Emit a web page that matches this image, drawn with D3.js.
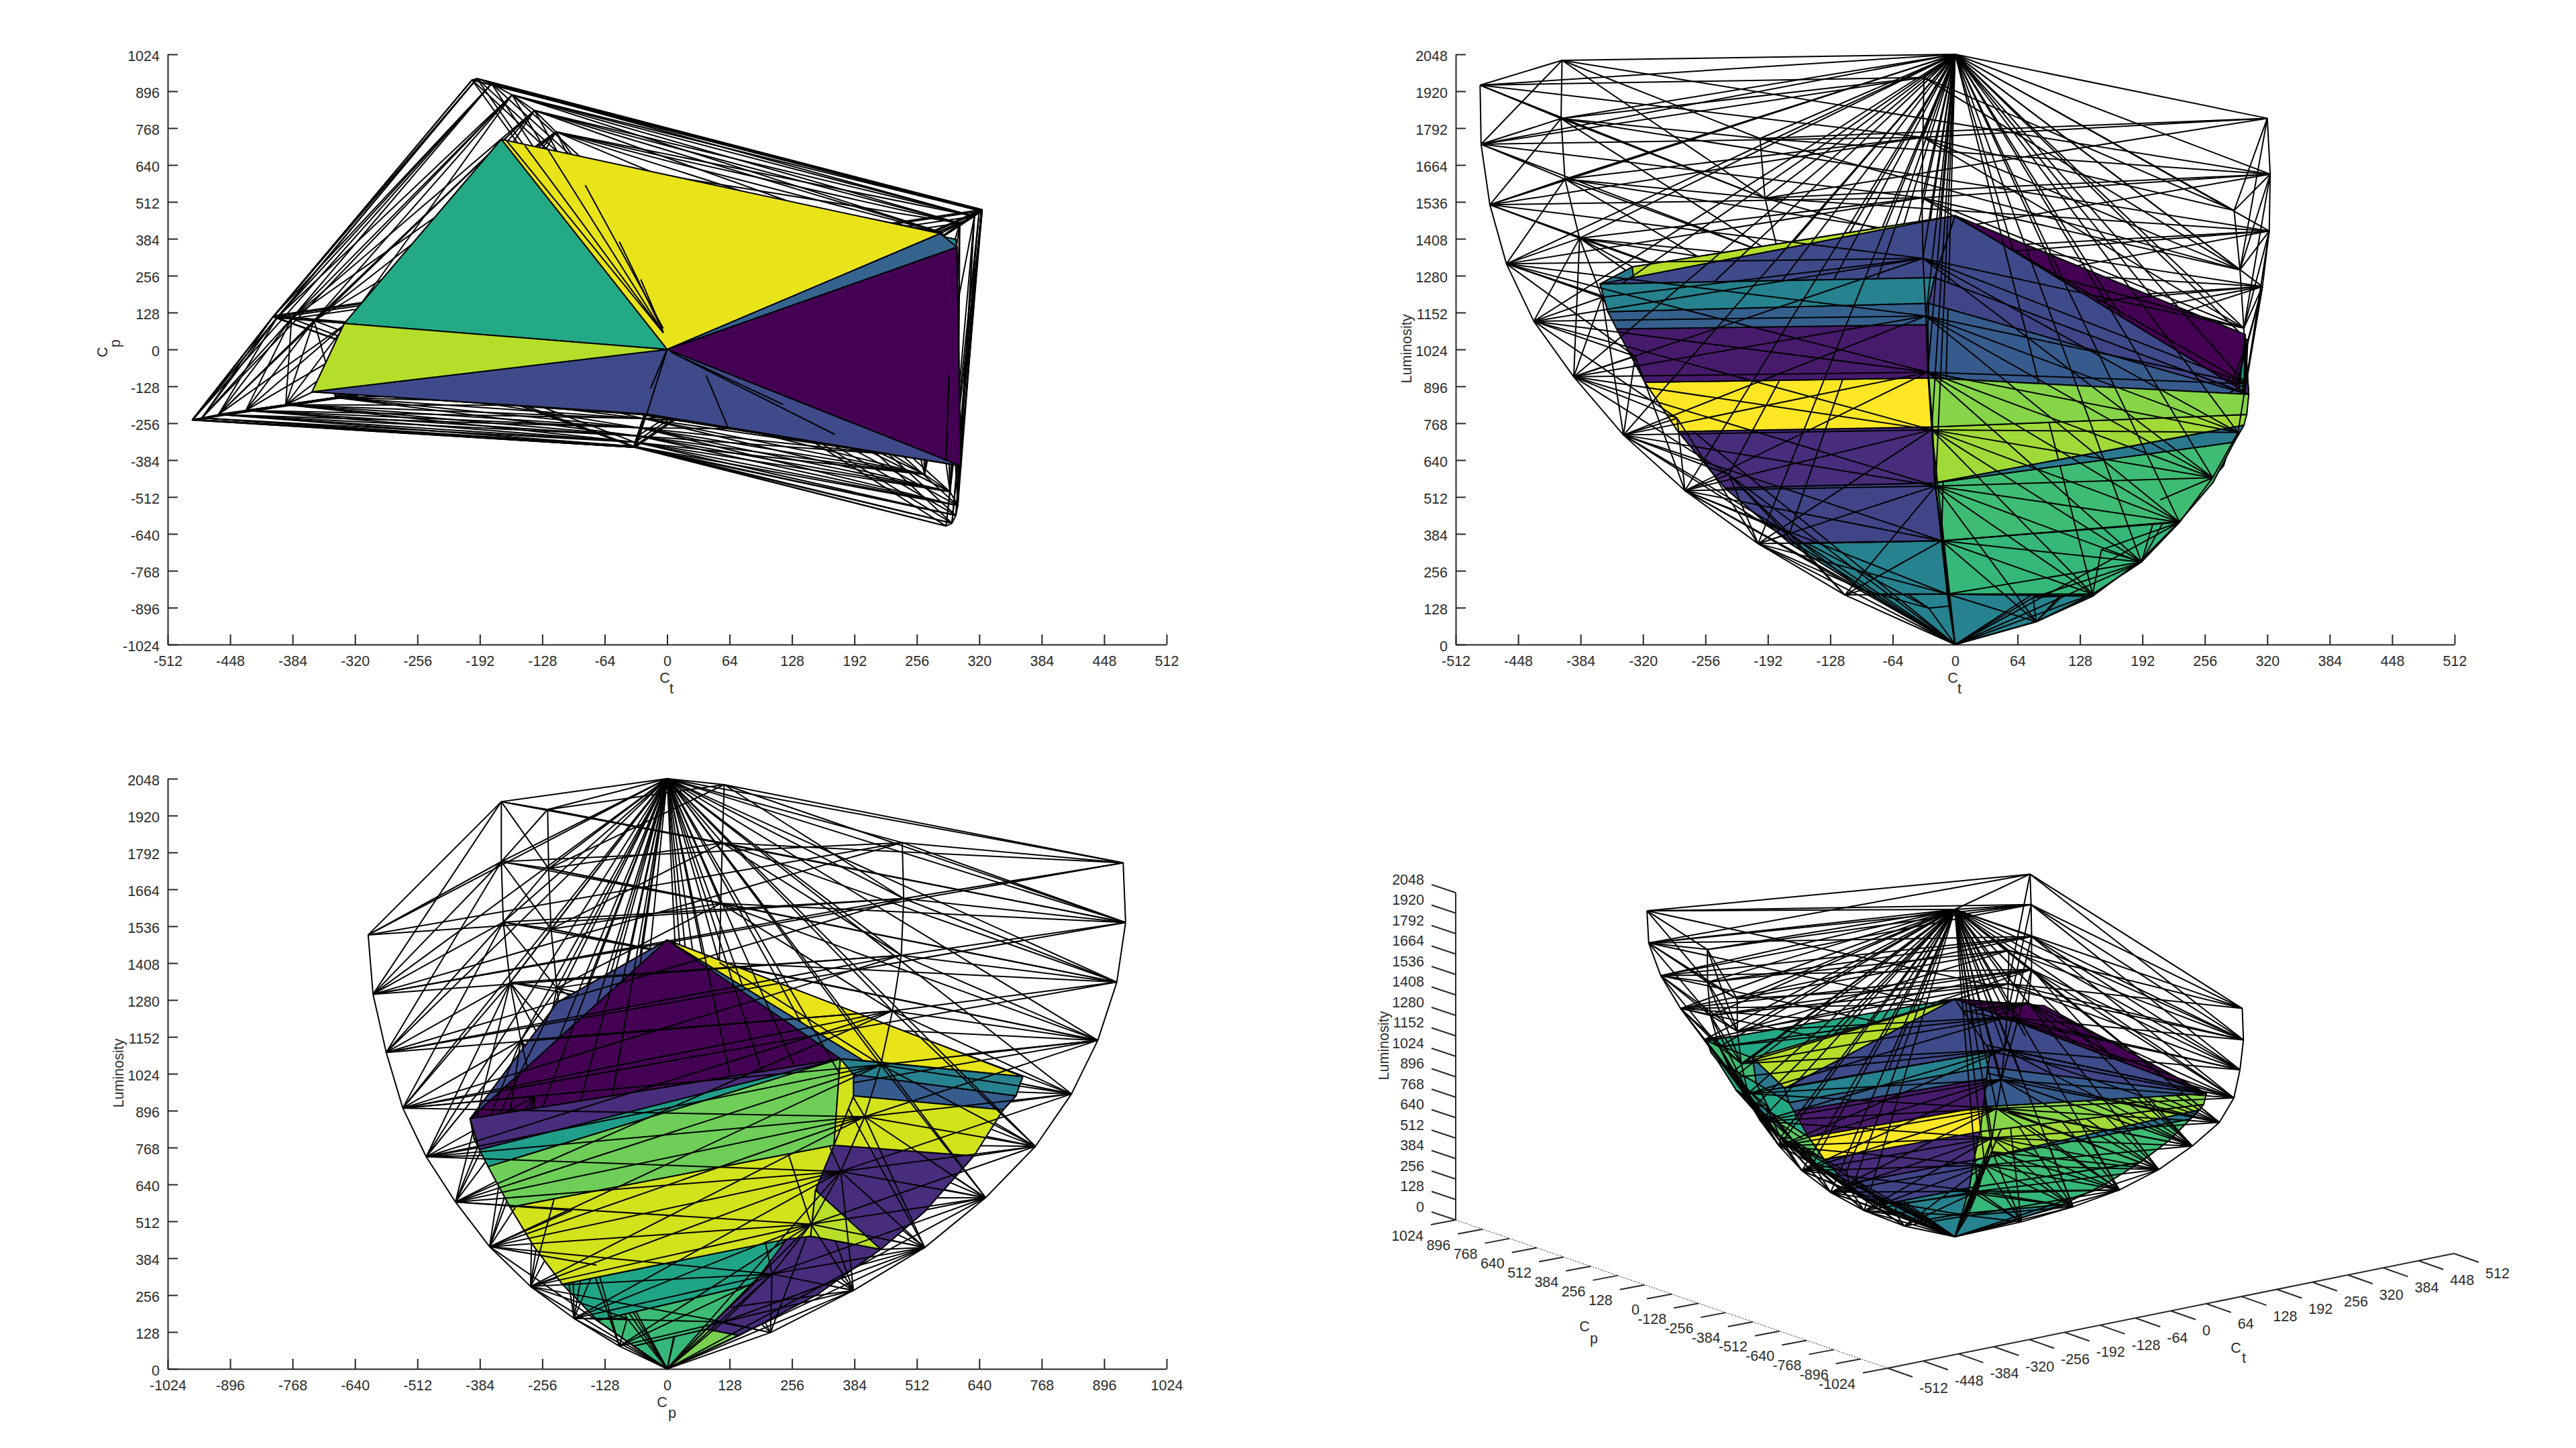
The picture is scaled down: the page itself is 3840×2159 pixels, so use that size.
<!DOCTYPE html>
<html><head><meta charset="utf-8">
<script src="https://cdn.jsdelivr.net/npm/d3@7"></script>
<style>html,body{margin:0;background:#fff}svg{display:block}text{font-family:"Liberation Sans",Arial,sans-serif;font-size:21.5px;fill:#2b2b2b}</style>
</head><body><svg id="c" width="3840" height="2159"></svg>
<script>
// ---- tick labels
const ctTicks=d3.range(-512,513,64), cpTicks=d3.range(-1024,1025,128), lTicks=d3.range(0,2049,128);
// ---- outer gamut shell: six chains, corner (top) to near black. Order A F B C E D
const outerCt=[
[-487,-486,-477,-460,-432,-391,-340,-277,-202,-113],
[-403,-404,-400,-385,-362,-328,-285,-232,-170,-95],
[-200,-195,-180,-159,-136,-114,-93,-72,-50,-27],
[320,323,322,315,300,282,255,210,150,80],
[286,292,296,298,290,264,230,191,141,83],
[-32,-33,-34,-33,-30,-28,-24,-20,-14,-8]];
const outerCp=[
[-245,-243,-238,-226,-212,-192,-167,-137,-100,-56],
[117,113,110,107,100,92,80,65,47,26],
[935,940,922,883,829,755,653,528,382,212],
[482,485,480,462,438,405,356,295,215,115],
[-613,-603,-576,-542,-494,-434,-364,-280,-191,-98],
[-340,-340,-336,-322,-300,-272,-240,-195,-145,-82]];
const outerL=[
[1941,1736,1526,1321,1122,929,727,534,350,172],
[2027,1825,1615,1410,1205,1000,785,590,385,190],
[1756,1549,1342,1140,954,772,594,421,272,126],
[1826,1632,1435,1242,1055,875,685,502,329,163],
[1506,1300,1098,905,736,579,424,286,175,79],
[1968,1760,1550,1340,1140,945,745,550,360,175]];
const whitePoint=[0,0,2048], blackPoint=[0,0,0], innerApex=[0,0,1488];
// ---- inner solid: chains [Ct, Cp, L]
const chainA=[[-364,-147,1251],[-356,-147,1155],[-347,-146,1095],[-318,-140,910],[-284,-125,739],[-236,-105,543],[-169,-78,350],[-86,-42,175]];
const chainB=[[-331,90,1310],[-325,90,1150],[-300,85,950],[-265,75,760],[-220,62,560],[-158,45,360],[-82,24,180]];
const chainC=[[-170,729,1014],[-168,715,947],[-165,689,899],[-155,629,739],[-135,528,546],[-115,438,415],[-82,307,257],[-42,148,116]];
const chainD=[[297,355,1076],[296,382,1021],[296,382,947],[290,342,776],[275,304,620],[235,294,460],[225,245,450],[165,177,294],[85,80,138]];
const chainE=[[301,-404,868],[299,-396,798],[296,-385,761],[286,-367,702],[264,-322,561],[230,-274,427],[191,-215,294],[141,-143,168],[83,-69,79]];
const chainF=[[-21,-224,1273],[-27,-226,1184],[-28,-224,1110],[-27,-205,925],[-23,-180,755],[-21,-145,561],[-12,-100,360],[-8,-55,175]];
const chainQ=[[280,402,1070]];
// ---- faces of the inner solid and their colours
const faceList=[
"T a0 b0","T b0 c0","T c0 q0","T q0 d0","T d0 e0","T e0 f0","T f0 a0",
"f0 f1 a1 a0","f1 f2 a2 a1","f2 f3 a3 a2","f3 f4 a4 a3","f4 f5 a5 a4","f5 f6 a6 a5","f6 f7 a7 a6","f7 O a7",
"f0 f1 e0","f1 f2 f3 e0","f3 f4 e1 e0","f4 f5 e2 e1","f5 e3 e2","f5 f6 e5 e4 e3","f6 f7 e7 e6 e5","f7 O e8 e7",
"d0 e0 e2","d0 e2 e3","d0 e3 e4 d3","e4 d3 d4 d5 d6 e6 e5","e6 d6 d7 e7","e7 d7 d8 e8","e8 d8 O",
"d0 c0 c1 d1","d1 c1 c2 d2","d0 d1 d2 d3","d2 c2 c3 d3","d3 c3 c4 c5 d4","d4 c5 d5","d5 c5 c6 c7 d8 d7 d6","d8 c7 O",
"a0 b0 b1 a1","a1 b1 b2 a3","a3 b2 b3 a4","a4 b3 b4 a5","a5 b4 b5 a6","a6 b5 b6 a7","a7 b6 O",
"b0 c0 c1 c2 b1","b1 c2 c3 b2","b2 c3 b3","b3 c3 c4 b4","b4 c4 c5 b5","b5 c5 c6 b6","b6 c6 c7 O"];
const faceColors=[
"#b5de2b","#24a986","#e8e419","#35648f","#440154","#3f4a8a","#3f4a8a",
"#26828e","#35608d","#481a6c","#fde725","#472d7b","#414487","#26828e","#26828e",
"#404588","#375b8d","#86d549","#a0da39","#2a788e","#3fbc73","#35b779","#26828e",
"#472d7b","#1f9e89","#6ece58","#d2e21b","#20a486","#3cbb75","#35b779",
"#26828e","#365c8d","#d2e21b","#d2e21b","#472d7b","#b8de29","#472d7b","#7ad151",
"#2a788e","#22a884","#5ec962","#22a884","#2a788e","#3fbc73","#22a884",
"#3fbc73","#22a884","#2a788e","#5ec962","#3fbc73","#22a884","#2a788e"];
// short leftover segments seen on top of the first panel [Ct1,Cp1,Ct2,Cp2]
const topViewStubs=[
[-165,726,-4,58],[-146,708,-4,58],[-124,703,-4,58],[-84,570,-4,73],[-49,374,-8,88],[-27,243,-4,60],
[289,-90,286,-387],[-17,-135,0,0],[4,-9,172,-295],[18,-31,119,-191],[40,-90,63,-276]];

// ---- vertex lookup
const V={T:innerApex,O:blackPoint,W:whitePoint};
[["a",chainA],["b",chainB],["c",chainC],["d",chainD],["e",chainE],["f",chainF],["q",chainQ]].forEach(([k,ch])=>ch.forEach((p,i)=>V[k+i]=p));
const faces=faceList.map((s,i)=>({pts:s.split(" ").map(n=>V[n]),color:faceColors[i]}));

// ---- outer wire edges
const op=(c,k)=>[outerCt[c][k],outerCp[c][k],outerL[c][k]];
const wires=[];
for(let c=0;c<6;c++){const n=(c+1)%6, m=(c+2)%6;
  for(let k=0;k<10;k++){
    wires.push([op(c,k),op(n,k)]);
    if(k<9){
      wires.push([op(c,k),op(c,k+1)]);
      wires.push([op(c,k),op(n,k+1)]);
      wires.push([op(c,k+1),op(n,k)]);
      wires.push([op(c,k),whitePoint]);
    }
    if(k<4 && c!==4) wires.push([op(c,k),op(m,k+1)]);
    if(k>=3 && k<8){
      wires.push([op(c,k),op(n,k+2)]);
      wires.push([op(c,k+2),op(n,k)]);
    }
    if(k>=6) wires.push([op(c,k),blackPoint]);
  }
}

// ---- panels
const svg=d3.select("#c");
const frames=[
 {x0:250,x1:1739,y0:961,y1:81},
 {x0:2170,x1:3659,y0:961,y1:81},
 {x0:250,x1:1739,y0:2041,y1:1161}];
function axes2D(f,xDom,xVals,yDom,yVals){
  const sx=d3.scaleLinear().domain(xDom).range([f.x0,f.x1]);
  const sy=d3.scaleLinear().domain(yDom).range([f.y0,f.y1]);
  const g=svg.append("g");
  const ax=g.append("g").attr("transform",`translate(0,${f.y0})`)
    .call(d3.axisBottom(sx).tickValues(xVals).tickFormat(String).tickSizeInner(-15).tickSizeOuter(0).tickPadding(17));
  const ay=g.append("g").attr("transform",`translate(${f.x0},0)`)
    .call(d3.axisLeft(sy).tickValues(yVals).tickFormat(String).tickSizeInner(-15).tickSizeOuter(0).tickPadding(12));
  ay.selectAll("text").attr("y",3);
  [ax,ay].forEach(a=>{a.attr("font-family",null).attr("font-size",null);
    a.selectAll("path,line").attr("stroke","#262626").attr("stroke-width",2);});
  return {sx,sy};
}
// wireBias pushes wires toward the viewer relative to the faces
function drawScene(g,proj,depth,linesFirst,wireBias){
  const meanDepth=pts=>d3.mean(pts,depth);
  const line=d3.line().x(d=>proj(d)[0]).y(d=>proj(d)[1]);
  const items=[
    ...faces.map(f=>({kind:"f",pts:f.pts,color:f.color,z:meanDepth(f.pts)})),
    ...wires.map(w=>({kind:"w",pts:w,z:meanDepth(w)+(wireBias||0)}))];
  items.sort((a,b)=>linesFirst?((a.kind==b.kind)?a.z-b.z:(a.kind=="w"?-1:1)):a.z-b.z);
  g.selectAll("path").data(items).join("path")
    .attr("d",d=>line(d.pts)+(d.kind=="f"?"Z":""))
    .attr("fill",d=>d.kind=="f"?d.color:"none")
    .attr("stroke","#000").attr("stroke-width",2).attr("stroke-linejoin","round");
}
// panel 1: Ct / Cp
{const {sx,sy}=axes2D(frames[0],[-512,512],ctTicks,[-1024,1024],cpTicks);
 const g=svg.append("g");
 drawScene(g,p=>[sx(p[0]),sy(p[1])],p=>p[2],true,0);
 svg.append("g").selectAll("line").data(topViewStubs).join("line")
  .attr("x1",d=>sx(d[0])).attr("y1",d=>sy(d[1])).attr("x2",d=>sx(d[2])).attr("y2",d=>sy(d[3]))
  .attr("stroke","#000").attr("stroke-width",2);}
// panel 2: Ct / L
{const {sx,sy}=axes2D(frames[1],[-512,512],ctTicks,[0,2048],lTicks);
 drawScene(svg.append("g"),p=>[sx(p[0]),sy(p[2])],p=>-p[1],false,200);}
// panel 3: Cp / L
{const {sx,sy}=axes2D(frames[2],[-1024,1024],cpTicks,[0,2048],lTicks);
 drawScene(svg.append("g"),p=>[sx(p[1]),sy(p[2])],p=>p[0],false,150);}
// panel 4: 3-D
{const ox=2814,oy=2040;
 const ctX=d3.scaleLinear().domain([-512,512]).range([0,844]), ctY=d3.scaleLinear().domain([-512,512]).range([0,-171]);
 const cpX=d3.scaleLinear().domain([-1024,1024]).range([0,-644]), cpY=d3.scaleLinear().domain([-1024,1024]).range([0,-221]);
 const lY=d3.scaleLinear().domain([0,2048]).range([0,-488]);
 const proj=p=>[ox+ctX(p[0])+cpX(p[1]),oy+ctY(p[0])+cpY(p[1])+lY(p[2])];
 const g=svg.append("g");
 const seg=(a,b,w,dash)=>g.append("line").attr("x1",a[0]).attr("y1",a[1]).attr("x2",b[0]).attr("y2",b[1])
   .attr("stroke","#262626").attr("stroke-width",w).attr("stroke-dasharray",dash||null);
 const P=(ct,cp,l)=>proj([ct,cp,l]);
 seg(P(-512,1024,0),P(-512,1024,2048),2);
 seg(P(-512,1024,0),P(-512,-1024,0),1,"2 2");
 seg(P(-512,-1024,0),P(512,-1024,0),2);
 const label=(x,y,t,anchor)=>g.append("text").attr("x",x).attr("y",y).attr("dy","0.36em").attr("text-anchor",anchor).text(t);
 lTicks.forEach(v=>{const a=P(-512,1024,v);seg(a,[a[0]-36,a[1]-12],2);label(a[0]-47,a[1]-20,v,"end");});
 cpTicks.forEach(v=>{const a=P(-512,v,0);seg(a,[a[0]-37,a[1]+7],2);label(a[0]-48,a[1]+23,v,"end");});
 ctTicks.forEach(v=>{const a=P(v,-1024,0);seg(a,[a[0]+37,a[1]+13],2);label(a[0]+47,a[1]+29,v,"start");});
 const dep=p=>-0.588*p[0]/512-0.766*p[1]/1024+0.26*p[2]/1024;
 drawScene(svg.append("g"),proj,dep,false,0.4);}
// ---- axis titles
const T=(x,y,t,rot)=>svg.append("text").attr("text-anchor","middle").attr("dy","0.36em")
  .attr("transform",`translate(${x},${y})`+(rot?" rotate(-90)":"")).text(t);
T(991,1010,"C");T(1001,1026,"t");
T(152,525,"C",1);T(171,512,"p",1);
T(2911,1010,"C");T(2921,1026,"t");
T(2096,520,"Luminosity",1);
T(987,2090,"C");T(1002,2106,"p");
T(176,1600,"Luminosity",1);
T(2362,1977,"C");T(2376,1995,"p");
T(3333,2009,"C");T(3345,2024,"t");
T(2062,1559,"Luminosity",1);
</script></body></html>
